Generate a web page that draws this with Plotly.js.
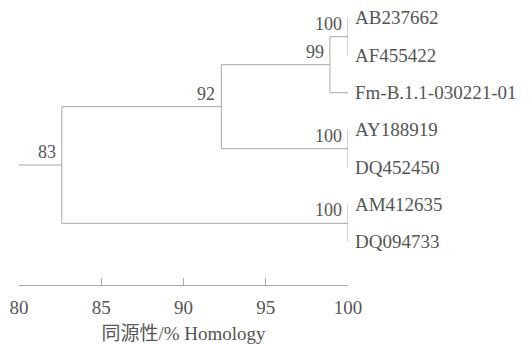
<!DOCTYPE html>
<html>
<head>
<meta charset="utf-8">
<script src="https://cdn.plot.ly/plotly-3.0.1.min.js"></script>
<style>
html,body{margin:0;padding:0;background:#fff;}
#chart{width:532px;height:344px;}
#chart svg text{font-family:'Liberation Serif','Times New Roman','Noto Sans CJK SC',serif !important;}
</style>
</head>
<body>
<div id="chart"></div>
<script>
// Leaves (top to bottom)
const leafNames = ['AB237662', 'AF455422', 'Fm-B.1.1-030221-01', 'AY188919', 'DQ452450', 'AM412635', 'DQ094733'];
const leafHeight = 100;
// Internal nodes: children (leaf names or node ids), homology level, bootstrap support
const nodeIds      = ['n1', 'n2', 'n3', 'n4', 'n5', 'n6'];
const nodeChildren = [['AB237662', 'AF455422'], ['n1', 'Fm-B.1.1-030221-01'], ['AY188919', 'DQ452450'], ['n2', 'n3'], ['AM412635', 'DQ094733'], ['n4', 'n5']];
const nodeHeights  = [100, 98.9, 100, 92.3, 100, 82.6];
const nodeSupport  = ['100', '99', '100', '92', '100', '83'];
const rootStart = 80;
const tickVals = [80, 85, 90, 95, 100];
const axisTitle = '同源性/% Homology';

const lineColor = '#a8a8a8';
const textColor = '#555555';
const fontFam = 'Times New Roman';

// positions
const pos = {};
leafNames.forEach((n, i) => { pos[n] = {x: leafHeight, y: i}; });
nodeIds.forEach((id, k) => {
  const ys = nodeChildren[k].map(c => pos[c].y);
  pos[id] = {x: nodeHeights[k], y: ys.reduce((a, b) => a + b, 0) / ys.length};
});

const xs = [], ys = [];
nodeIds.forEach((id, k) => {
  const p = pos[id];
  const cy = nodeChildren[k].map(c => pos[c].y);
  xs.push(p.x, p.x, null); ys.push(Math.min(...cy), Math.max(...cy), null);
  nodeChildren[k].forEach(c => {
    if (pos[c].x !== p.x) { xs.push(p.x, pos[c].x, null); ys.push(pos[c].y, pos[c].y, null); }
  });
});
const root = pos[nodeIds[nodeIds.length - 1]];
xs.push(rootStart, root.x, null); ys.push(root.y, root.y, null);

const annotations = [];
leafNames.forEach(n => {
  annotations.push({x: pos[n].x, y: pos[n].y, text: n, showarrow: false, xanchor: 'left', yanchor: 'middle',
    xshift: 5, font: {family: fontFam, size: 19, color: textColor}});
});
nodeIds.forEach((id, k) => {
  annotations.push({x: pos[id].x, y: pos[id].y, text: nodeSupport[k], showarrow: false, xanchor: 'right', yanchor: 'middle',
    xshift: -4, yshift: 13, font: {family: fontFam, size: 18, color: textColor}});
});

const data = [{x: xs, y: ys, mode: 'lines', type: 'scatter', line: {color: lineColor, width: 1}, hoverinfo: 'skip', showlegend: false, cliponaxis: false}];

const layout = {
  width: 532, height: 344,
  margin: {l: 19, r: 184, t: 0, b: 59},
  paper_bgcolor: '#fff', plot_bgcolor: '#fff',
  showlegend: false,
  font: {family: fontFam, color: textColor},
  xaxis: {range: [80, 100], tickvals: tickVals, ticktext: tickVals.map(String), showgrid: false, zeroline: false,
    showline: true, linecolor: lineColor, linewidth: 1, ticks: 'inside', ticklen: 7, tickcolor: lineColor,
    ticklabelstandoff: 5,
    tickfont: {family: fontFam, size: 19, color: textColor},
    title: {text: axisTitle, font: {family: fontFam, size: 19, color: textColor}, standoff: 10}},
  yaxis: {range: [7.152, -0.482], visible: false, showgrid: false, zeroline: false},
  annotations: annotations
};
Plotly.newPlot('chart', data, layout, {staticPlot: true, displayModeBar: false});
</script>
</body>
</html>
